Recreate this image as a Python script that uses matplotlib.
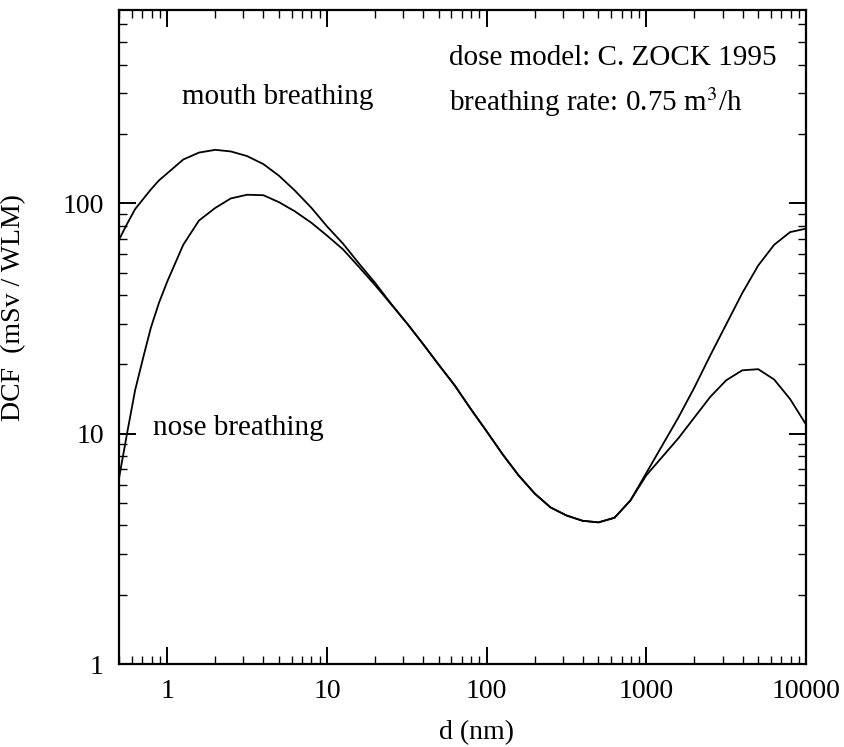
import matplotlib
matplotlib.use('Agg')
import matplotlib.pyplot as plt
from matplotlib.ticker import LogLocator, NullFormatter, FixedLocator, FixedFormatter

plt.rcParams['font.family'] = ['Liberation Serif', 'DejaVu Serif']
plt.rcParams['mathtext.fontset'] = 'stix'

# particle diameter (nm)
d = [0.5, 0.56, 0.63, 0.71, 0.79, 0.89, 1, 1.26, 1.58, 2, 2.5, 3.16, 4, 5, 6.3, 8,
     10, 12.6, 15.8, 20, 25, 31.6, 40, 50, 63, 79, 100, 126, 158, 200, 251, 316, 398,
     501, 631, 794, 1000, 1259, 1585, 1995, 2512, 3162, 3981, 5012, 6310, 7943, 10000]

# log10 of DCF (mSv/WLM)
log_mouth = [1.843, 1.91, 1.975, 2.02, 2.06, 2.10, 2.13, 2.19, 2.22, 2.232, 2.225, 2.205,
             2.17, 2.12, 2.055, 1.98, 1.90, 1.825, 1.74, 1.655, 1.567, 1.48, 1.389, 1.30,
             1.21, 1.11, 1.01, 0.91, 0.82, 0.74, 0.68, 0.645, 0.622, 0.615, 0.635, 0.71,
             0.83, 0.95, 1.07, 1.20, 1.34, 1.475, 1.61, 1.73, 1.82, 1.875, 1.89]
log_nose = [0.81, 1.0, 1.19, 1.335, 1.46, 1.57, 1.66, 1.82, 1.925, 1.98, 2.021, 2.037,
            2.035, 2.005, 1.965, 1.915, 1.86, 1.80, 1.725, 1.645, 1.565, 1.48, 1.389, 1.30,
            1.21, 1.11, 1.01, 0.91, 0.82, 0.74, 0.68, 0.645, 0.622, 0.615, 0.635, 0.71,
            0.82, 0.90, 0.98, 1.07, 1.16, 1.232, 1.275, 1.28, 1.235, 1.15, 1.039]

dcf_mouth = [10 ** v for v in log_mouth]
dcf_nose = [10 ** v for v in log_nose]

x_ticks = [1, 10, 100, 1000, 10000]
x_labels = ['1', '10', '100', '1000', '10000']
y_ticks = [1, 10, 100]
y_labels = ['1', '10', '100']

fig = plt.figure(figsize=(8.45, 7.47), dpi=100)
ax = fig.add_axes([0.141, 0.111, 0.813, 0.8756])

ax.plot(d, dcf_mouth, color='black', lw=1.3)
ax.plot(d, dcf_nose, color='black', lw=1.3)

ax.set_xscale('log')
ax.set_yscale('log')
ax.set_xlim(0.5, 10000)
ax.set_ylim(1, 690)

ax.xaxis.set_major_locator(FixedLocator(x_ticks))
ax.xaxis.set_major_formatter(FixedFormatter(x_labels))
ax.yaxis.set_major_locator(FixedLocator(y_ticks))
ax.yaxis.set_major_formatter(FixedFormatter(y_labels))
ax.xaxis.set_minor_locator(LogLocator(base=10, subs=range(2, 10), numticks=20))
ax.yaxis.set_minor_locator(LogLocator(base=10, subs=range(2, 10), numticks=20))
ax.xaxis.set_minor_formatter(NullFormatter())
ax.yaxis.set_minor_formatter(NullFormatter())

ax.tick_params(which='both', direction='in', top=True, right=True, labelsize=20, color='black')
ax.tick_params(which='major', length=12, width=1.4, pad=11)
ax.tick_params(which='minor', length=6, width=1.0)
for s in ax.spines.values():
    s.set_linewidth(1.6)

ax.set_xlabel('d (nm)', fontsize=20)
ax.xaxis.set_label_coords(0.52, -0.085)
ax.set_ylabel('DCF  (mSv / WLM)', fontsize=20)
ax.yaxis.set_label_coords(-0.135, 0.545)


# text positions measured in pixels from the top-left, turned into axes fractions
def px(x, y):
    return ((x - 119) / (806 - 119), (664 - y) / (664 - 10))


ax.text(*px(182, 97), 'mouth breathing', transform=ax.transAxes, fontsize=21, va='center')
ax.text(*px(153, 428), 'nose breathing', transform=ax.transAxes, fontsize=21, va='center')
ax.text(*px(449, 58), 'dose model: C. ZOCK 1995', transform=ax.transAxes, fontsize=21, va='center')
ax.text(*px(449, 102), 'breathing rate: 0.75 m$^3$/h', transform=ax.transAxes, fontsize=21, va='center')

fig.savefig('out.png', dpi=100)
